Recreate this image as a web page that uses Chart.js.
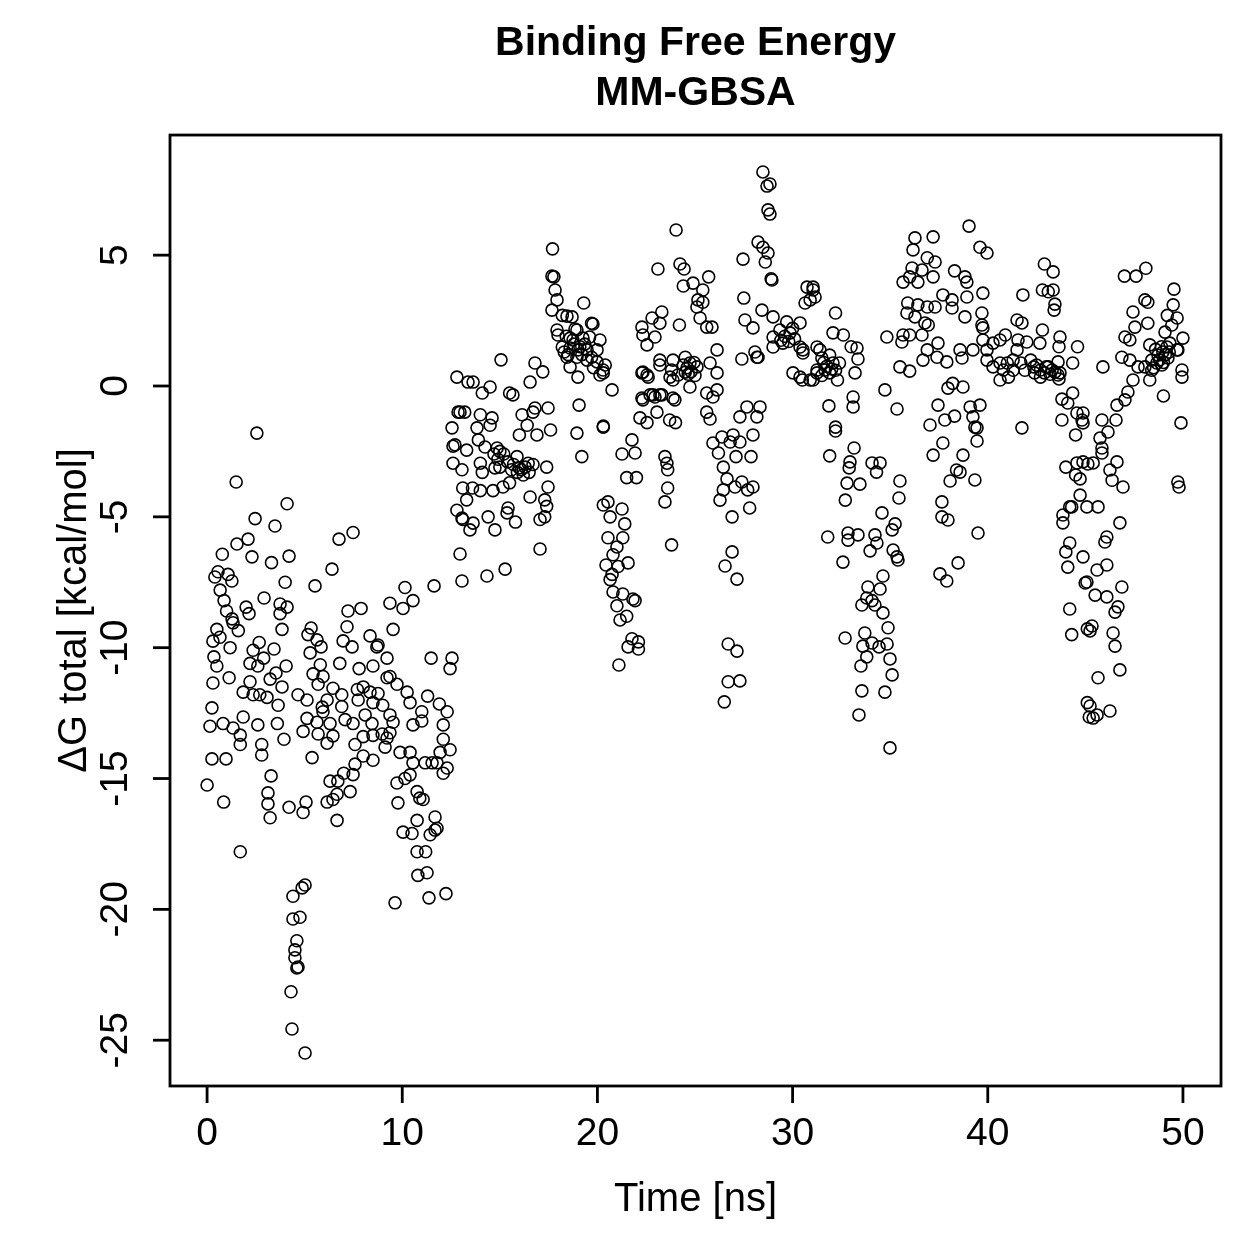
<!DOCTYPE html>
<html>
<head>
<meta charset="utf-8">
<title>Binding Free Energy MM-GBSA</title>
<script src="https://cdn.jsdelivr.net/npm/chart.js@4.4.1/dist/chart.umd.min.js"></script>
<style>
  html, body { margin: 0; padding: 0; background: #fff; }
  canvas { display: block; }
</style>
</head>
<body>
<canvas id="dgChart" width="1259" height="1259"></canvas>
<script>
// ΔG total [kcal/mol] vs time [ns] in time blocks
const pts0to5 = [
  [0.0,-15.25],[0.15,-13.0],[0.25,-12.3],[0.3,-11.35],[0.35,-10.35],[0.3,-9.75],[0.5,-9.3],[0.66,-9.6],
  [0.5,-10.7],[0.4,-7.3],[0.56,-7.1],[0.67,-7.8],[0.78,-6.43],[0.87,-8.2],[0.82,-12.9],[0.85,-15.9],
  [0.97,-14.25],[0.25,-14.25],[1.0,-8.6],[1.07,-7.2],[1.18,-10.0],[1.13,-11.15],[1.27,-7.45],[1.28,-8.9],
  [1.33,-9.05],[1.33,-13.07],[1.49,-3.67],[1.53,-6.04],[1.6,-9.35],[1.7,-13.34],[1.7,-13.7],[1.7,-17.8],
  [1.85,-11.7],[1.85,-12.65],[2.0,-8.45],[2.1,-5.85],[2.15,-8.7],[2.2,-10.6],[2.2,-11.3],[2.3,-6.53],
  [2.36,-10.1],[2.36,-11.8],[2.46,-5.07],[2.55,-1.8],[2.6,-10.7],[2.6,-12.95],[2.67,-9.8],[2.7,-11.8],
  [2.8,-13.7],[2.8,-14.1],[2.9,-10.4],[2.92,-8.1],[3.07,-11.9],[3.12,-15.55],[3.12,-15.97],[3.23,-11.2],
  [3.23,-16.5],[3.28,-14.9],[3.3,-6.75],[3.43,-10.05],[3.48,-5.35],[3.53,-10.97],[3.6,-12.9],[3.64,-12.2],
  [3.74,-8.33],[3.74,-8.7],[3.84,-9.3],[3.84,-11.5],[3.94,-13.5],[4.0,-7.5],[4.05,-10.7],[4.1,-4.5],
  [4.1,-8.45],[4.2,-6.5],[4.2,-16.1],[4.66,-11.8],[4.92,-13.2],[4.92,-16.3],[5.07,-15.9],[5.12,-12.0],
  [5.12,-12.7],[4.3,-23.15],[4.35,-24.57],[4.4,-19.5],[4.4,-20.37],[4.5,-21.55],[4.5,-21.85],[4.6,-21.2],
  [4.6,-22.24],[4.66,-22.2],[4.76,-20.3],[4.87,-19.18],[5.02,-19.07],[5.02,-25.49]
];
const pts5to12 = [
  [5.17,-9.5],[5.28,-10.2],[5.33,-9.25],[5.38,-14.2],[5.43,-11.0],[5.53,-7.64],[5.63,-9.7],[5.63,-12.85],
  [5.69,-11.4],[5.69,-13.3],[5.8,-10.65],[5.84,-9.97],[5.9,-12.27],[5.94,-11.1],[5.94,-12.45],[6.15,-12.0],
  [6.15,-13.65],[6.15,-15.9],[6.3,-12.9],[6.3,-15.1],[6.4,-7.0],[6.45,-11.55],[6.45,-13.37],[6.45,-15.8],
  [6.66,-15.6],[6.66,-16.6],[6.7,-15.1],[6.76,-5.85],[6.8,-10.6],[6.9,-11.8],[6.9,-12.25],[6.97,-9.74],
  [7.0,-14.8],[7.07,-12.75],[7.17,-9.2],[7.22,-8.6],[7.33,-15.5],[7.43,-9.97],[7.48,-5.6],[7.48,-12.9],
  [7.48,-14.85],[7.58,-14.45],[7.58,-13.7],[7.7,-11.6],[7.74,-12.0],[7.79,-10.8],[7.89,-8.5],[8.0,-11.5],
  [8.0,-13.4],[8.0,-14.14],[8.1,-12.57],[8.35,-9.55],[8.35,-11.7],[8.45,-12.9],[8.5,-10.7],[8.5,-12.1],
  [8.5,-13.35],[8.5,-14.3],[8.7,-9.97],[8.76,-9.9],[8.76,-11.75],[8.97,-13.3],[9.0,-12.2],[9.12,-13.8],
  [9.22,-10.4],[9.22,-11.15],[9.22,-13.45],[9.37,-8.3],[9.37,-11.1],[9.37,-12.57],[9.37,-13.25],[9.53,-9.3],
  [9.53,-12.85],[9.63,-19.75],[9.73,-11.4],[9.73,-15.17],[9.78,-15.93],[9.89,-14.0],[10.04,-8.5],[10.04,-17.05],
  [10.14,-7.7],[10.14,-15.0],[10.25,-11.7],[10.4,-12.1],[10.4,-14.0],[10.4,-14.86],[10.5,-17.1],[10.55,-8.2],
  [10.55,-12.95],[10.55,-14.4],[10.76,-15.5],[10.76,-16.6],[10.76,-17.8],[10.8,-18.7],[10.9,-15.75],[11.0,-12.45],
  [11.0,-12.8],[11.07,-15.8],[11.17,-14.4],[11.2,-17.8],[11.27,-18.6],[11.3,-11.85],[11.37,-19.56],[11.43,-17.15],
  [11.48,-10.4],[11.53,-14.4],[11.63,-7.64],[11.68,-16.47],[11.68,-16.97],[11.78,-14.4],[11.78,-16.9],[11.9,-12.15],
  [11.94,-14.0],[12.1,-12.95],[12.1,-13.5],[12.1,-14.8],[12.24,-19.4],[12.3,-12.45],[12.3,-14.6],[12.45,-10.8],
  [12.45,-13.9],[12.55,-10.4]
];
const pts12to18 = [
  [12.55,-1.6],[12.6,-2.3],[12.6,-2.95],[12.7,-2.25],[12.8,0.34],[12.8,-4.75],[12.86,-1.0],[12.96,-1.0],
  [12.96,-6.42],[13.06,-3.2],[13.06,-5.05],[13.06,-7.45],[13.1,-3.9],[13.1,-5.1],[13.2,-1.0],[13.3,-2.45],
  [13.3,-4.35],[13.37,0.15],[13.47,-5.5],[13.6,-3.9],[13.63,0.15],[13.63,-5.24],[13.83,-1.6],[13.9,-2.06],
  [14.0,-1.1],[14.0,-2.95],[14.0,-4.0],[14.1,-0.27],[14.1,-3.3],[14.24,-2.33],[14.34,-7.26],[14.4,-5.0],
  [14.5,-0.04],[14.5,-1.5],[14.6,-1.22],[14.65,-4.0],[14.75,-3.13],[14.75,-5.5],[14.86,-2.37],[15.0,-2.5],
  [15.06,1.0],[15.16,-3.86],[15.27,-7.0],[15.37,-4.85],[15.42,-4.66],[15.5,-0.27],[15.5,-3.7],[15.67,-0.34],
  [15.8,-5.2],[15.88,-2.7],[16.0,-1.87],[16.0,-3.13],[16.14,-1.1],[16.2,-3.4],[16.4,-1.5],[16.55,0.15],
  [16.55,-4.24],[16.7,-1.0],[16.7,-3.0],[16.8,0.88],[16.8,-0.84],[16.9,-1.87],[17.06,-5.1],[17.06,-6.23],
  [17.2,0.54],[17.3,-4.35],[17.3,-5.0],[17.4,-3.1],[17.4,-4.6],[17.47,-0.84],[17.47,-3.86],[17.6,-1.68],
  [15.2,-2.6],[15.4,-2.9],[15.6,-3.2],[15.7,-3.0],[15.9,-3.3],[16.1,-3.2],[16.3,-3.1],[16.5,-3.3],
  [16.45,-2.95],[14.7,-2.6],[14.9,-2.8],[15.0,-3.1]
];
const pts18to24 = [
  [17.7,5.24],[17.67,4.2],[17.77,4.17],[17.83,3.67],[17.93,3.29],[17.67,2.9],[18.2,2.7],[18.44,2.67],
  [19.3,3.17],[19.77,2.37],[18.85,2.18],[17.93,2.14],[17.98,1.95],[18.6,1.83],[19.26,1.83],[19.6,1.87],
  [20.13,1.76],[18.2,1.49],[18.6,1.45],[19.0,1.38],[19.47,1.38],[19.98,1.38],[18.44,1.1],[18.95,1.1],
  [19.47,0.99],[19.98,0.92],[20.4,0.8],[18.6,0.73],[19.0,0.34],[20.13,0.42],[20.29,0.61],[20.75,-0.15],
  [19.06,-0.73],[18.95,-1.8],[19.2,-2.7],[20.3,-1.57],[18.7,2.64],[18.95,2.14],[19.7,2.4],[18.75,1.76],
  [20.3,0.5],[18.3,1.3],[18.5,1.2],[18.8,1.6],[19.1,1.5],[19.2,1.2],[19.35,1.6],[18.4,1.9],[19.7,1.1],[19.8,0.7],
  [20.3,-4.55],[20.54,-4.43],[21.26,-4.7],[20.65,-5.0],[21.4,-5.27],[20.54,-5.8],[21.3,-5.8],[21.0,-6.15],
  [20.8,-6.45],[20.44,-6.84],[21.57,-6.76],[21.06,-6.9],[20.75,-7.2],[20.65,-7.4],[20.8,-7.87],[21.3,-7.95],
  [21.82,-8.14],[21.93,-8.2],[21.0,-8.4],[21.5,-8.8],[21.16,-8.94],[21.77,-9.66],[22.1,-9.78],[21.57,-9.97],
  [22.1,-10.05],[21.1,-10.66],[21.77,-2.06],[21.26,-2.6],[21.93,-2.56],[21.5,-3.5],[22.0,-3.5],[20.3,-1.53],
  [23.1,4.47],[22.28,2.25],[22.8,2.6],[23.3,2.83],[23.2,2.4],[22.33,1.95],[22.95,1.87],[22.54,1.57],
  [23.2,0.8],[22.33,0.53],[22.6,0.34],[23.8,0.61],[23.87,0.23],[22.7,-0.34],[22.95,-0.42],[23.2,-0.34],
  [22.28,-0.46],[23.97,-0.53],[23.05,-1.0],[22.18,-1.22],[22.54,-1.4],[23.7,-1.3],[24.0,-1.4],[23.46,-2.7],
  [23.56,-2.95],[23.6,-3.2],[23.6,-3.9],[23.46,-4.43],[23.8,-6.07],[23.2,0.99],[23.87,0.99],[22.28,0.5],
  [22.54,0.42],[22.33,-0.53],[22.85,-0.34],[23.3,-0.34],[23.87,-0.46],[23.72,0.34]
];
const pts24to29 = [
  [24.03,5.96],[24.23,4.66],[24.44,4.47],[24.4,3.82],[24.9,3.93],[25.7,4.17],[25.4,3.67],[25.15,3.29],
  [25.4,3.2],[25.1,3.02],[25.26,2.6],[25.6,2.25],[25.87,2.25],[24.2,2.33],[24.5,1.1],[24.74,0.88],
  [25.1,0.73],[25.77,0.88],[26.13,1.38],[26.13,0.5],[24.13,0.42],[24.5,0.53],[24.74,-0.04],[25.6,-0.27],
  [26.13,-0.15],[25.92,-0.42],[24.6,0.7],[24.8,0.55],[24.95,0.9],[24.4,0.8],[24.65,0.45],[25.0,0.4],
  [25.6,-1.0],[25.77,-1.26],[25.92,-2.18],[26.38,-1.95],[26.95,-1.87],[26.8,-2.14],[27.3,-2.14],[27.97,-1.87],
  [26.2,-2.56],[27.1,-2.7],[27.87,-2.7],[26.45,-3.1],[26.64,-3.55],[27.4,-3.67],[27.05,-3.86],[27.97,-3.86],
  [27.7,-3.97],[26.45,-3.97],[26.28,-4.36],[27.8,-4.66],[26.9,-5.0],[26.9,-6.34],[26.54,-6.88],[27.15,-7.38],
  [26.7,-9.86],[27.15,-10.13],[26.7,-11.3],[27.3,-11.27],[26.5,-12.07],
  [27.46,4.85],[28.23,5.5],[28.48,5.3],[28.74,5.08],[28.6,4.74],[28.94,4.05],[27.5,3.36],[27.56,2.52],
  [27.97,2.22],[28.43,2.9],[28.07,1.3],[28.23,1.1],[27.4,1.03],[28.17,1.1],[28.33,-0.8],[27.66,-0.8],
  [27.3,-1.18],[28.17,-1.18],[28.48,8.18],[28.69,7.64],[28.84,7.72],[28.74,6.73],[28.84,6.57],[28.9,4.1]
];
const pts29to36 = [
  [29.0,2.64],[29.7,2.45],[30.38,2.41],[30.74,3.78],[31.05,3.67],[30.9,3.29],[29.0,1.87],[29.35,2.14],
  [29.5,1.64],[29.87,2.03],[30.38,1.49],[30.53,1.26],[31.25,1.49],[29.0,1.49],[30.02,0.5],[30.38,0.34],
  [30.9,0.23],[31.25,0.61],[31.05,3.78],[31.15,3.4],[30.64,3.17],[29.6,1.9],[29.8,1.7],[30.0,2.2],
  [29.4,1.75],[30.1,1.8],[32.2,2.79],[32.07,2.03],[32.6,1.95],[33.0,1.5],[33.3,1.45],[33.35,1.03],
  [33.2,0.5],[31.4,1.38],[31.5,1.07],[31.9,1.18],[32.07,0.88],[32.4,0.88],[31.66,0.61],[31.25,0.5],
  [30.53,1.38],[30.5,0.23],[31.05,0.23],[31.9,0.5],[32.3,0.23],[33.1,-0.42],[33.1,-0.8],[31.86,-0.76],
  [32.2,-1.57],[31.6,0.9],[31.75,0.75],[32.0,0.65],[32.2,0.6],[31.5,0.4],
  [31.8,-5.77],[32.2,-1.72],[33.15,-2.37],[31.9,-2.67],[32.94,-2.9],[32.9,-3.13],[34.07,-2.94],[34.48,-2.94],
  [34.3,-3.29],[32.79,-3.71],[33.45,-3.75],[35.5,-3.63],[32.7,-4.36],[35.45,-4.28],[34.58,-4.85],[35.25,-5.27],
  [35.1,-5.5],[32.84,-5.62],[33.35,-5.69],[32.84,-5.89],[34.22,-5.69],[34.32,-6.0],[33.97,-6.3],[32.58,-6.73],
  [35.15,-6.27],[35.35,-6.53],[35.4,-6.65],[34.63,-7.26],[33.86,-7.68],[34.48,-7.76],[33.8,-8.1],[34.07,-8.2],
  [33.55,-8.37],[34.22,-8.37],[34.63,-8.67],[34.89,-9.24],[32.69,-9.63],[33.7,-9.44],[33.6,-9.94],[34.07,-9.82],
  [34.43,-9.97],[34.84,-9.86],[33.8,-10.35],[33.5,-10.7],[34.99,-10.43],[35.1,-11.04],[33.55,-11.65],[34.73,-11.7],
  [33.4,-12.57],[34.99,-13.83],[34.73,-0.15],[35.35,-0.88],[35.5,0.73],[36.0,0.57],[34.83,1.87],[35.66,1.95],
  [35.6,1.68],[36.0,1.95],[36.63,1.95]
];
const pts36to40 = [
  [36.27,5.66],[37.2,5.7],[36.17,5.2],[36.9,4.9],[37.3,4.74],[37.2,4.17],[38.3,4.4],[38.83,4.17],
  [38.93,3.97],[36.12,4.51],[36.63,4.43],[36.0,4.17],[35.66,3.97],[36.42,3.97],[35.9,3.17],[36.42,3.1],
  [36.9,3.02],[37.3,3.02],[37.7,3.48],[38.17,3.29],[38.17,2.98],[38.93,3.4],[38.83,2.64],[39.75,3.55],
  [39.7,2.79],[35.86,2.79],[36.27,2.64],[36.78,2.41],[36.95,2.33],[39.7,2.33],[39.75,2.22],[37.45,1.64],
  [36.9,1.38],[36.68,0.99],[37.4,1.1],[37.9,0.92],[38.58,1.38],[38.68,1.07],[39.24,1.38],[39.04,6.11],
  [39.6,5.3],[39.96,5.08],[37.45,-0.73],[37.8,-1.3],[38.3,-1.15],[37.96,-0.08],[38.2,0.1],[38.73,-0.04],
  [39.1,-0.8],[39.6,-0.73],[39.24,-1.18],[39.34,-1.57],[37.04,-1.49],[39.45,-1.6],[39.45,-2.1],[37.7,-2.18],
  [37.2,-2.64],[38.73,-2.64],[38.4,-3.21],[38.58,-3.29],[38.07,-3.63],[39.34,-3.59],[37.65,-4.43],[37.65,-5.0],
  [37.96,-5.12],[39.5,-5.62],[38.48,-6.76],[37.55,-7.18],[37.9,-7.45]
];
const pts40to45 = [
  [39.75,1.76],[39.96,1.38],[40.27,1.64],[40.63,1.76],[40.9,1.95],[41.5,2.52],[41.75,2.41],[41.55,1.76],
  [42.0,1.68],[39.96,0.99],[40.27,0.73],[40.63,0.88],[41.0,0.88],[41.3,0.99],[40.8,0.61],[41.06,0.34],
  [41.7,0.88],[42.2,0.99],[42.36,0.73],[42.7,0.61],[43.0,0.73],[43.3,0.61],[43.7,0.5],[42.7,0.34],
  [40.63,0.23],[41.5,1.38],[42.9,4.66],[43.35,4.36],[42.8,3.67],[43.1,3.6],[43.35,3.67],[43.44,3.13],
  [43.4,2.9],[41.8,3.48],[42.8,2.14],[42.67,1.64],[43.7,1.87],[43.65,1.5],[44.6,1.5],[44.35,0.88],
  [43.6,0.92],[43.1,0.73],[43.44,0.53],[43.6,0.42],[43.65,0.27],[42.5,0.8],[42.9,0.5],[43.2,0.45],
  [42.4,0.5],[41.9,0.6],[41.3,0.6],[44.35,-0.27],[43.8,-0.5],[44.1,-0.65],[44.57,-1.03],[44.88,-1.03],
  [44.83,-1.3],[43.8,-1.3],[41.75,-1.6],[44.5,-1.87],[44.0,-3.1],[44.57,-2.94],[44.88,-2.9],[44.5,-3.4],
  [44.73,-3.55],[44.73,-4.17],[44.2,-4.62],[43.85,-4.93],[43.85,-5.23],[44.2,-6.0],[44.0,-6.34],[44.1,-6.92],
  [44.88,-6.53],[44.99,-7.53],[44.2,-8.52],[44.3,-9.5],[45.1,-9.28],[45.1,-12.1],[45.2,-12.65],[44.88,-1.41],
  [45.13,-2.98],[45.4,-2.94],[45.08,-4.62],[44.3,-4.62]
];
const pts45to50 = [
  [45.9,0.73],[47.0,4.2],[47.6,4.2],[48.1,4.5],[49.54,3.7],[49.5,3.1],[49.2,2.7],[49.7,2.6],
  [49.43,2.33],[50.0,1.83],[49.74,1.38],[49.95,0.61],[49.95,0.34],[49.0,-0.38],[49.9,-1.41],[49.74,-3.67],
  [49.8,-3.86],[48.05,3.29],[48.2,3.2],[47.44,2.83],[48.2,2.4],[47.54,2.25],[49.08,2.06],[47.03,1.87],
  [47.28,1.76],[48.3,1.57],[46.87,1.1],[47.28,0.99],[47.7,0.73],[48.05,0.73],[48.4,0.99],[48.72,1.18],
  [48.97,1.3],[49.18,1.49],[49.33,1.64],[48.66,0.88],[48.92,0.8],[49.23,1.07],[49.7,1.38],[48.3,0.23],
  [47.44,0.23],[47.18,-0.23],[47.03,-0.53],[48.5,0.7],[48.8,1.0],[49.0,0.9],[49.1,1.2],[48.6,1.4],
  [48.9,1.5],[49.3,1.3],[48.4,0.6],[46.62,-0.73],[46.57,-1.3],[46.16,-1.76],[45.75,-1.99],[45.85,-2.37],
  [45.85,-2.56],[45.85,-1.3],[46.26,-3.21],[46.62,-2.9],[46.37,-3.6],[46.93,-3.86],[45.65,-4.62],[46.77,-5.23],
  [46.1,-5.77],[46.0,-5.96],[45.6,-7.03],[46.1,-6.84],[45.08,-7.49],[45.5,-7.99],[46.1,-8.06],[46.87,-7.68],
  [46.67,-8.44],[46.52,-8.64],[45.34,-9.17],[45.24,-9.36],[46.42,-9.44],[46.52,-9.94],[46.77,-10.85],[45.65,-11.15],
  [45.24,-12.23],[46.26,-12.42],[45.4,-12.69],[45.6,-12.57]
];

const xTicks = [0, 10, 20, 30, 40, 50];
const yTicks = [-25, -20, -15, -10, -5, 0, 5];

const allPoints = [].concat(pts0to5, pts5to12, pts12to18, pts18to24, pts24to29,
  pts29to36, pts36to40, pts40to45, pts45to50).map(p => ({ x: p[0], y: p[1] }));

const FONT = "'Liberation Sans', Arial, Helvetica, sans-serif";

// R-style box, outward ticks, rotated y labels and axis titles
const rAxes = {
  id: "rAxes",
  afterDraw(chart) {
    const { ctx, chartArea: a, scales } = chart;
    const x = scales.x, y = scales.y;
    ctx.save();
    ctx.strokeStyle = "#000";
    ctx.fillStyle = "#000";
    ctx.lineWidth = 2.8;
    ctx.strokeRect(a.left, a.top, a.right - a.left, a.bottom - a.top);

    ctx.font = "39px " + FONT;
    ctx.textAlign = "center";
    ctx.textBaseline = "middle";
    xTicks.forEach(v => {
      const px = x.getPixelForValue(v);
      ctx.beginPath();
      ctx.moveTo(px, a.bottom);
      ctx.lineTo(px, a.bottom + 17);
      ctx.stroke();
      ctx.fillText(String(v), px, a.bottom + 48);
    });
    yTicks.forEach(v => {
      const py = y.getPixelForValue(v);
      ctx.beginPath();
      ctx.moveTo(a.left, py);
      ctx.lineTo(a.left - 17, py);
      ctx.stroke();
      ctx.save();
      ctx.translate(a.left - 54, py);
      ctx.rotate(-Math.PI / 2);
      ctx.fillText(String(v), 0, 0);
      ctx.restore();
    });

    ctx.font = "40px " + FONT;
    ctx.fillText("Time [ns]", (a.left + a.right) / 2, a.bottom + 114);
    ctx.save();
    ctx.translate(a.left - 95, (a.top + a.bottom) / 2);
    ctx.rotate(-Math.PI / 2);
    ctx.fillText("ΔG total [kcal/mol]", 0, 0);
    ctx.restore();
    ctx.restore();
  }
};

new Chart(document.getElementById("dgChart"), {
  type: "scatter",
  data: {
    datasets: [{
      label: "ΔG total",
      data: allPoints,
      pointStyle: "circle",
      pointRadius: 6,
      pointBorderWidth: 1.6,
      pointBorderColor: "#000",
      pointBackgroundColor: "rgba(0,0,0,0)",
      pointHoverRadius: 6
    }]
  },
  options: {
    responsive: false,
    animation: false,
    devicePixelRatio: 1,
    layout: { padding: { left: 170, right: 38, top: 0, bottom: 173 } },
    scales: {
      x: { type: "linear", display: false, min: -1.9, max: 51.95 },
      y: { type: "linear", display: false, min: -26.75, max: 9.59 }
    },
    plugins: {
      legend: { display: false },
      tooltip: { enabled: false },
      title: {
        display: true,
        text: ["Binding Free Energy", "MM-GBSA"],
        color: "#000",
        font: { family: FONT, size: 41, weight: "bold", lineHeight: 1.22 },
        padding: { top: 19, bottom: 16 }
      }
    }
  },
  plugins: [rAxes]
});
</script>
</body>
</html>
